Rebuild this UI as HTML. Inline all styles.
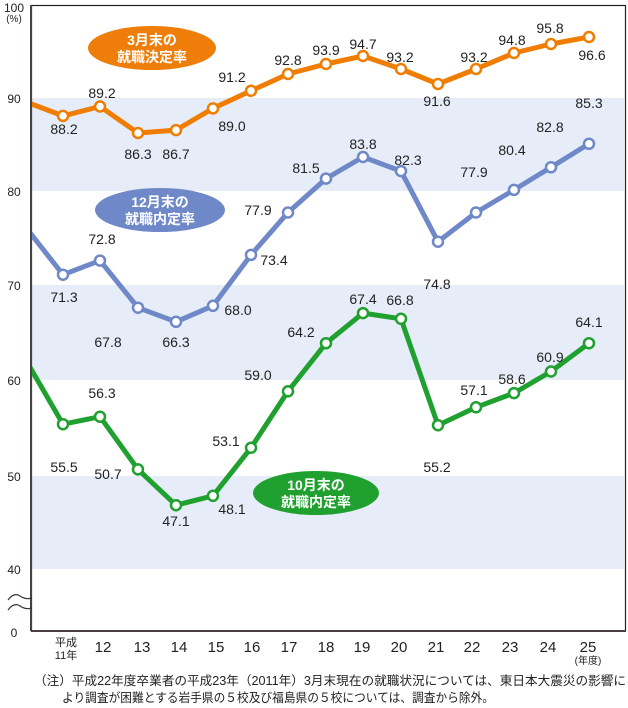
<!DOCTYPE html>
<html><head><meta charset="utf-8"><style>
body{margin:0;background:#fff;}
svg{display:block;font-family:"Liberation Sans","Noto Sans CJK JP",sans-serif;}
</style></head><body>
<svg width="628" height="708" viewBox="0 0 628 708" xmlns="http://www.w3.org/2000/svg">
<defs>
<clipPath id="c"><rect x="32" y="5" width="594" height="626"/></clipPath>
</defs>
<rect x="32" y="98" width="592" height="93" fill="#e6edf8"/>
<rect x="32" y="285" width="592" height="95" fill="#e6edf8"/>
<rect x="32" y="476" width="592" height="93" fill="#e6edf8"/>
<rect x="31.5" y="5.5" width="594" height="625.5" fill="none" stroke="#222" stroke-width="1.2"/>
<line x1="31" y1="5" x2="31" y2="631" stroke="#4a4040" stroke-width="2"/>
<line x1="31" y1="631" x2="626" y2="631" stroke="#4a4040" stroke-width="2"/>
<path d="M8,600 q6,-8 12,-4 t12,2 M8,610 q6,-8 12,-4 t12,2" fill="none" stroke="#333" stroke-width="1.2"/>
<g font-size="12" fill="#222" text-anchor="middle">
<text x="14" y="12">100</text><text x="14" y="22" font-size="10">(%)</text>
<text x="14" y="103">90</text><text x="14" y="196">80</text><text x="14" y="290">70</text>
<text x="14" y="385">60</text><text x="14" y="481">50</text><text x="14" y="574">40</text>
<text x="14" y="637">0</text>
</g>
<g font-size="15" fill="#222" text-anchor="middle">
<text x="66" y="646" font-size="11">平成</text><text x="66" y="659" font-size="11">11年</text>
<text x="103" y="652">12</text><text x="142" y="652">13</text><text x="179" y="652">14</text><text x="216" y="652">15</text>
<text x="252" y="652">16</text><text x="289" y="652">17</text><text x="326" y="652">18</text><text x="362" y="652">19</text>
<text x="399" y="652">20</text><text x="436" y="652">21</text><text x="472" y="652">22</text><text x="510" y="652">23</text>
<text x="548" y="652">24</text><text x="588" y="652">25</text>
<text x="588" y="664" font-size="10">(年度)</text>
</g>
<g clip-path="url(#c)" fill="none" stroke-width="5" stroke-linejoin="round">
<polyline stroke="#f07d00" points="20,99.6 63,115.9 100,106.5 138,133 176,130.1 213,108.4 251,90.8 288,74 326,64 363,56 401,69 438,84 476,69 514,53 551,44 589,37"/>
<polyline stroke="#6f88c8" points="20,220 63,274.7 100,260.6 138,307.7 176,321.8 213,305.8 251,254.9 288,212.5 326,178.6 363,157 401,171.1 438,241.7 476,212.5 514,189.9 551,167.3 589,143.8"/>
<polyline stroke="#1fa02f" points="20,350 63,424.2 100,416.7 138,469.4 176,505.2 213,495.8 251,447.8 288,391.3 326,343.2 363,313.1 401,318.8 438,425.2 476,407.3 514,393.1 551,371.5 589,343.2"/>
</g>
<g fill="#fff" stroke-width="2.5">
<g stroke="#f07d00">
<circle cx="63" cy="115.9" r="5"/><circle cx="100" cy="106.5" r="5"/><circle cx="138" cy="133" r="5"/><circle cx="176" cy="130.1" r="5"/><circle cx="213" cy="108.4" r="5"/><circle cx="251" cy="90.8" r="5"/><circle cx="288" cy="74" r="5"/><circle cx="326" cy="64" r="5"/><circle cx="363" cy="56" r="5"/><circle cx="401" cy="69" r="5"/><circle cx="438" cy="84" r="5"/><circle cx="476" cy="69" r="5"/><circle cx="514" cy="53" r="5"/><circle cx="551" cy="44" r="5"/><circle cx="589" cy="37" r="5"/>
</g>
<g stroke="#6f88c8">
<circle cx="63" cy="274.7" r="5"/><circle cx="100" cy="260.6" r="5"/><circle cx="138" cy="307.7" r="5"/><circle cx="176" cy="321.8" r="5"/><circle cx="213" cy="305.8" r="5"/><circle cx="251" cy="254.9" r="5"/><circle cx="288" cy="212.5" r="5"/><circle cx="326" cy="178.6" r="5"/><circle cx="363" cy="157" r="5"/><circle cx="401" cy="171.1" r="5"/><circle cx="438" cy="241.7" r="5"/><circle cx="476" cy="212.5" r="5"/><circle cx="514" cy="189.9" r="5"/><circle cx="551" cy="167.3" r="5"/><circle cx="589" cy="143.8" r="5"/>
</g>
<g stroke="#1fa02f">
<circle cx="63" cy="424.2" r="5"/><circle cx="100" cy="416.7" r="5"/><circle cx="138" cy="469.4" r="5"/><circle cx="176" cy="505.2" r="5"/><circle cx="213" cy="495.8" r="5"/><circle cx="251" cy="447.8" r="5"/><circle cx="288" cy="391.3" r="5"/><circle cx="326" cy="343.2" r="5"/><circle cx="363" cy="313.1" r="5"/><circle cx="401" cy="318.8" r="5"/><circle cx="438" cy="425.2" r="5"/><circle cx="476" cy="407.3" r="5"/><circle cx="514" cy="393.1" r="5"/><circle cx="551" cy="371.5" r="5"/><circle cx="589" cy="343.2" r="5"/>
</g>
</g>
<g font-size="14" fill="#222" text-anchor="middle" dominant-baseline="central">
<text x="64" y="129">88.2</text><text x="102" y="93">89.2</text><text x="138" y="154">86.3</text><text x="176" y="154">86.7</text><text x="232" y="126">89.0</text><text x="232" y="77">91.2</text><text x="288" y="60">92.8</text><text x="326" y="50">93.9</text><text x="363" y="44">94.7</text><text x="400" y="57">93.2</text><text x="437" y="101">91.6</text><text x="474" y="57">93.2</text><text x="512" y="40">94.8</text><text x="550" y="28">95.8</text><text x="592" y="55">96.6</text>
<text x="64" y="297">71.3</text><text x="102" y="239">72.8</text><text x="108" y="342">67.8</text><text x="176" y="342">66.3</text><text x="238" y="310">68.0</text><text x="274" y="260">73.4</text><text x="258" y="210">77.9</text><text x="306" y="168">81.5</text><text x="363" y="144">83.8</text><text x="408" y="160">82.3</text><text x="437" y="284">74.8</text><text x="474" y="172">77.9</text><text x="512" y="150">80.4</text><text x="550" y="127">82.8</text><text x="589" y="103">85.3</text>
<text x="64" y="467">55.5</text><text x="102" y="393">56.3</text><text x="108" y="474">50.7</text><text x="176" y="521">47.1</text><text x="232" y="509">48.1</text><text x="226" y="441">53.1</text><text x="258" y="375">59.0</text><text x="301" y="332">64.2</text><text x="363" y="299">67.4</text><text x="400" y="300">66.8</text><text x="437" y="467">55.2</text><text x="474" y="390">57.1</text><text x="512" y="379">58.6</text><text x="550" y="357">60.9</text><text x="589" y="322">64.1</text>
</g>
<ellipse cx="152" cy="48" rx="64" ry="22" fill="#ef7d0a"/>
<ellipse cx="160" cy="210" rx="65" ry="22" fill="#6f88c8"/>
<ellipse cx="316" cy="493" rx="63" ry="22" fill="#1fa02f"/>
<g font-size="14" font-weight="bold" fill="#fff" text-anchor="middle">
<text x="152" y="45">3月末の</text><text x="152" y="62">就職決定率</text>
<text x="160" y="207">12月末の</text><text x="160" y="224">就職内定率</text>
<text x="316" y="490">10月末の</text><text x="316" y="507">就職内定率</text>
</g>
<g font-size="12.5" fill="#222">
<text x="34" y="685" textLength="592" lengthAdjust="spacingAndGlyphs">（注）平成22年度卒業者の平成23年（2011年）3月末現在の就職状況については、東日本大震災の影響に</text>
<text x="62" y="702" textLength="432" lengthAdjust="spacingAndGlyphs">より調査が困難とする岩手県の５校及び福島県の５校については、調査から除外。</text>
</g>
</svg>
</body></html>
